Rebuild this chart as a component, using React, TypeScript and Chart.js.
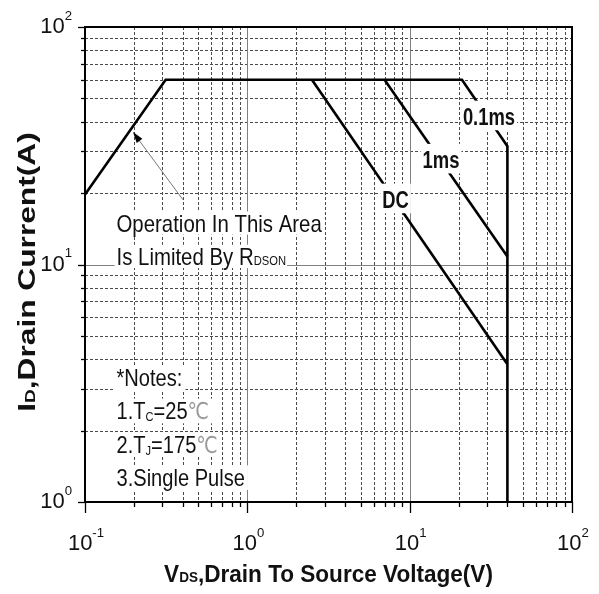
import React, { useEffect, useRef } from "react";
import { Chart, registerables } from "chart.js";

Chart.register(...registerables);

// ---- data ----
const X_MIN = 0.1;
const X_MAX = 100;
const Y_MIN = 1;
const Y_MAX = 100;

// 0.1 ms / R_DSON / package limit boundary
const limitV = [0.1, 0.314, 21, 40, 40];
const limitI = [19.7, 60, 60, 31.5, 1];
// 1 ms
const ms1V = [7, 40];
const ms1I = [60, 10.8];
// DC
const dcV = [2.5, 40];
const dcI = [60, 3.8];

// curve labels (centre in data coordinates)
const curveLabels = ["0.1ms", "1ms", "DC"];
const curveLabelV = [30.8, 15.6, 8.19];
const curveLabelI = [41.8, 27.5, 18.7];

// decade tick exponents
const xTickExps = [-1, 0, 1, 2];
const yTickExps = [0, 1, 2];

// arrow (tail -> head) in data coordinates
const arrowV = [0.402, 0.1975];
const arrowI = [18.7, 36.1];

const FONT = '"Liberation Sans", Arial, Helvetica, sans-serif';

type Seg = { t: string; small?: number; dy?: number; color?: string; light?: boolean };

function drawRich(
  ctx: CanvasRenderingContext2D,
  segs: Seg[],
  x: number,
  base: number,
  size: number,
  bold: boolean,
  sx: number,
  align: "left" | "center" | "right",
  bg?: number[]
) {
  ctx.save();
  const fontOf = (s: Seg) => {
    const fs = s.small ? size * s.small : size;
    if (s.light) return `${fs}px "DejaVu Sans", ${FONT}`;
    return `${bold ? "bold " : ""}${fs}px ${FONT}`;
  };
  const ws = segs.map((s) => {
    ctx.font = fontOf(s);
    return ctx.measureText(s.t).width;
  });
  const total = ws.reduce((a, b) => a + b, 0) * sx;
  const left = align === "left" ? x : align === "center" ? x - total / 2 : x - total;
  if (bg) {
    const cap = size * 0.72;
    ctx.fillStyle = "#fff";
    ctx.fillRect(left - bg[3], base - cap - bg[0], total + bg[1] + bg[3], cap + bg[0] + bg[2]);
  }
  ctx.translate(left, base);
  ctx.scale(sx, 1);
  ctx.textAlign = "left";
  ctx.textBaseline = "alphabetic";
  let cx = 0;
  segs.forEach((s, i) => {
    ctx.font = fontOf(s);
    ctx.fillStyle = s.color || "#111";
    ctx.fillText(s.t, cx, (s.dy || 0) * size);
    cx += ws[i];
  });
  ctx.restore();
}

function gridValues(min: number, max: number) {
  const minor: number[] = [];
  const major: number[] = [];
  const e0 = Math.round(Math.log10(min));
  const e1 = Math.round(Math.log10(max));
  for (let e = e0; e <= e1; e++) {
    for (let m = 1; m <= 9; m++) {
      const v = m * Math.pow(10, e);
      if (v > max * 1.0001) break;
      if (m === 1) major.push(v);
      else minor.push(v);
    }
  }
  return { minor, major };
}

const soaPlugin = {
  id: "soaPlugin",
  beforeDraw(chart: any) {
    const ctx = chart.ctx as CanvasRenderingContext2D;
    ctx.save();
    ctx.fillStyle = "#fff";
    ctx.fillRect(0, 0, chart.width, chart.height);
    ctx.restore();
  },
  beforeDatasetsDraw(chart: any) {
    const ctx = chart.ctx as CanvasRenderingContext2D;
    const a = chart.chartArea;
    const xs = chart.scales.x;
    const ys = chart.scales.y;
    const gx = gridValues(X_MIN, X_MAX);
    const gy = gridValues(Y_MIN, Y_MAX);
    ctx.save();
    // minor dashed grid
    ctx.strokeStyle = "#4a4a4a";
    ctx.lineWidth = 1;
    ctx.setLineDash([3, 2]);
    gx.minor.forEach((v) => {
      const p = Math.round(xs.getPixelForValue(v)) + 0.5;
      ctx.beginPath();
      ctx.moveTo(p, a.top);
      ctx.lineTo(p, a.bottom);
      ctx.stroke();
    });
    gy.minor.forEach((v) => {
      const p = Math.round(ys.getPixelForValue(v)) + 0.5;
      ctx.beginPath();
      ctx.moveTo(a.left, p);
      ctx.lineTo(a.right, p);
      ctx.stroke();
    });
    // major solid grid
    ctx.setLineDash([]);
    ctx.strokeStyle = "#808080";
    gx.major.forEach((v) => {
      const p = Math.round(xs.getPixelForValue(v)) + 0.5;
      ctx.beginPath();
      ctx.moveTo(p, a.top);
      ctx.lineTo(p, a.bottom);
      ctx.stroke();
    });
    gy.major.forEach((v) => {
      const p = Math.round(ys.getPixelForValue(v)) + 0.5;
      ctx.beginPath();
      ctx.moveTo(a.left, p);
      ctx.lineTo(a.right, p);
      ctx.stroke();
    });
    ctx.restore();
  },
  afterDatasetsDraw(chart: any) {
    const ctx = chart.ctx as CanvasRenderingContext2D;
    const a = chart.chartArea;
    const xs = chart.scales.x;
    const ys = chart.scales.y;
    const gx = gridValues(X_MIN, X_MAX);
    const gy = gridValues(Y_MIN, Y_MAX);

    // curve labels with white boxes (they break the curves)
    curveLabels.forEach((lab, i) => {
      const cx = xs.getPixelForValue(curveLabelV[i]);
      const cy = ys.getPixelForValue(curveLabelI[i]);
      const size = 23;
      drawRich(ctx, [{ t: lab }], cx, cy + size * 0.36, size, true, 0.8, "center", [8, 2, 5, 2]);
    });

    // annotation text
    const tl = a.left + 31.5;
    drawRich(ctx, [{ t: "Operation In This Area" }], tl, 231.7, 24, false, 0.85, "left", [3, 3, 3, 2]);
    drawRich(
      ctx,
      [{ t: "Is Limited By R" }, { t: "DSON", small: 0.55 }],
      tl,
      265,
      24,
      false,
      0.85,
      "left",
      [3, 1, 3, 2]
    );

    // arrow
    const ax0 = xs.getPixelForValue(arrowV[0]);
    const ay0 = ys.getPixelForValue(arrowI[0]);
    const ax1 = xs.getPixelForValue(arrowV[1]);
    const ay1 = ys.getPixelForValue(arrowI[1]);
    const ang = Math.atan2(ay1 - ay0, ax1 - ax0);
    ctx.save();
    ctx.strokeStyle = "#777";
    ctx.lineWidth = 1;
    ctx.beginPath();
    ctx.moveTo(ax0, ay0);
    ctx.lineTo(ax1 - 6 * Math.cos(ang), ay1 - 6 * Math.sin(ang));
    ctx.stroke();
    ctx.fillStyle = "#000";
    ctx.beginPath();
    ctx.moveTo(ax1, ay1);
    ctx.lineTo(ax1 - 11 * Math.cos(ang) + 3.5 * Math.sin(ang), ay1 - 11 * Math.sin(ang) - 3.5 * Math.cos(ang));
    ctx.lineTo(ax1 - 11 * Math.cos(ang) - 3.5 * Math.sin(ang), ay1 - 11 * Math.sin(ang) + 3.5 * Math.cos(ang));
    ctx.closePath();
    ctx.fill();
    ctx.restore();

    // notes
    const ns = 24.5;
    const nsx = 0.82;
    const nbg = [3, 3, 4, 2];
    drawRich(ctx, [{ t: "*Notes:" }], tl, 386, ns, false, nsx, "left", nbg);
    drawRich(
      ctx,
      [{ t: "1.T" }, { t: "C", small: 0.55, dy: 0.08 }, { t: "=25" }, { t: "℃", color: "#9a9a9a", light: true, small: 0.95 }],
      tl,
      419.3,
      ns,
      false,
      nsx,
      "left",
      nbg
    );
    drawRich(
      ctx,
      [{ t: "2.T" }, { t: "J", small: 0.55, dy: 0.08 }, { t: "=175" }, { t: "℃", color: "#9a9a9a", light: true, small: 0.95 }],
      tl,
      452.7,
      ns,
      false,
      nsx,
      "left",
      nbg
    );
    drawRich(ctx, [{ t: "3.Single Pulse" }], tl, 486, ns, false, nsx, "left", nbg);

    // ticks
    ctx.save();
    ctx.strokeStyle = "#000";
    ctx.lineWidth = 1.3;
    gx.minor.forEach((v) => {
      const p = Math.round(xs.getPixelForValue(v)) + 0.5;
      ctx.beginPath();
      ctx.moveTo(p, a.bottom);
      ctx.lineTo(p, a.bottom + 5);
      ctx.stroke();
    });
    gx.major.forEach((v) => {
      const p = Math.round(xs.getPixelForValue(v)) + 0.5;
      ctx.beginPath();
      ctx.moveTo(p, a.bottom);
      ctx.lineTo(p, a.bottom + 11);
      ctx.stroke();
    });
    gy.minor.forEach((v) => {
      const p = Math.round(ys.getPixelForValue(v)) + 0.5;
      ctx.beginPath();
      ctx.moveTo(a.left, p);
      ctx.lineTo(a.left - 4, p);
      ctx.stroke();
    });
    gy.major.forEach((v) => {
      const p = Math.round(ys.getPixelForValue(v)) + 0.5;
      ctx.beginPath();
      ctx.moveTo(a.left, p);
      ctx.lineTo(a.left - 7, p);
      ctx.stroke();
    });
    // border
    ctx.lineWidth = 2;
    ctx.strokeRect(a.left, a.top, a.right - a.left, a.bottom - a.top);
    ctx.restore();

    // tick labels
    const ts = 22;
    xTickExps.forEach((e) => {
      const p = xs.getPixelForValue(Math.pow(10, e));
      drawRich(ctx, [{ t: "10" }, { t: String(e), small: 0.6, dy: -0.6 }], p + 1, a.bottom + 48, ts, false, 1, "center");
    });
    yTickExps.forEach((e) => {
      const p = ys.getPixelForValue(Math.pow(10, e));
      drawRich(ctx, [{ t: "10" }, { t: String(e), small: 0.6, dy: -0.6 }], a.left - 13, p + 6, ts, false, 1, "right");
    });

    // axis titles
    drawRich(
      ctx,
      [{ t: "V" }, { t: "DS", small: 0.6 }, { t: ",Drain To Source Voltage(V)" }],
      (a.left + a.right) / 2,
      581.7,
      24,
      true,
      0.94,
      "center"
    );
    ctx.save();
    ctx.translate(35, 272);
    ctx.rotate(-Math.PI / 2);
    drawRich(
      ctx,
      [{ t: "I" }, { t: "D", small: 0.6 }, { t: ",Drain Current(A)" }],
      0,
      0,
      24,
      true,
      1.32,
      "center"
    );
    ctx.restore();
  },
};

function mk(xs: number[], ys: number[]) {
  return {
    data: xs.map((v, i) => ({ x: v, y: ys[i] })),
    showLine: true,
    borderColor: "#000",
    backgroundColor: "#000",
    borderWidth: 2.6,
    borderJoinStyle: "miter" as const,
    pointRadius: 0,
    fill: false,
    tension: 0,
  };
}

export default function App() {
  const ref = useRef<HTMLCanvasElement>(null);
  useEffect(() => {
    const canvas = ref.current;
    if (!canvas) return;
    const chart = new Chart(canvas, {
      type: "scatter",
      data: {
        datasets: [mk(limitV, limitI), mk(ms1V, ms1I), mk(dcV, dcI)] as any,
      },
      options: {
        responsive: false,
        animation: false,
        devicePixelRatio: 1,
        events: [],
        layout: { padding: { left: 85, top: 27, right: 27, bottom: 92 } },
        plugins: { legend: { display: false }, tooltip: { enabled: false } },
        scales: {
          x: { type: "logarithmic", min: X_MIN, max: X_MAX, display: false },
          y: { type: "logarithmic", min: Y_MIN, max: Y_MAX, display: false },
        },
      } as any,
      plugins: [soaPlugin as any],
    });
    return () => chart.destroy();
  }, []);
  return (
    <div style={{ position: "fixed", left: 0, top: 0, width: 599, height: 594, background: "#fff" }}>
      <canvas ref={ref} width={599} height={594} style={{ display: "block", width: 599, height: 594 }} />
    </div>
  );
}
